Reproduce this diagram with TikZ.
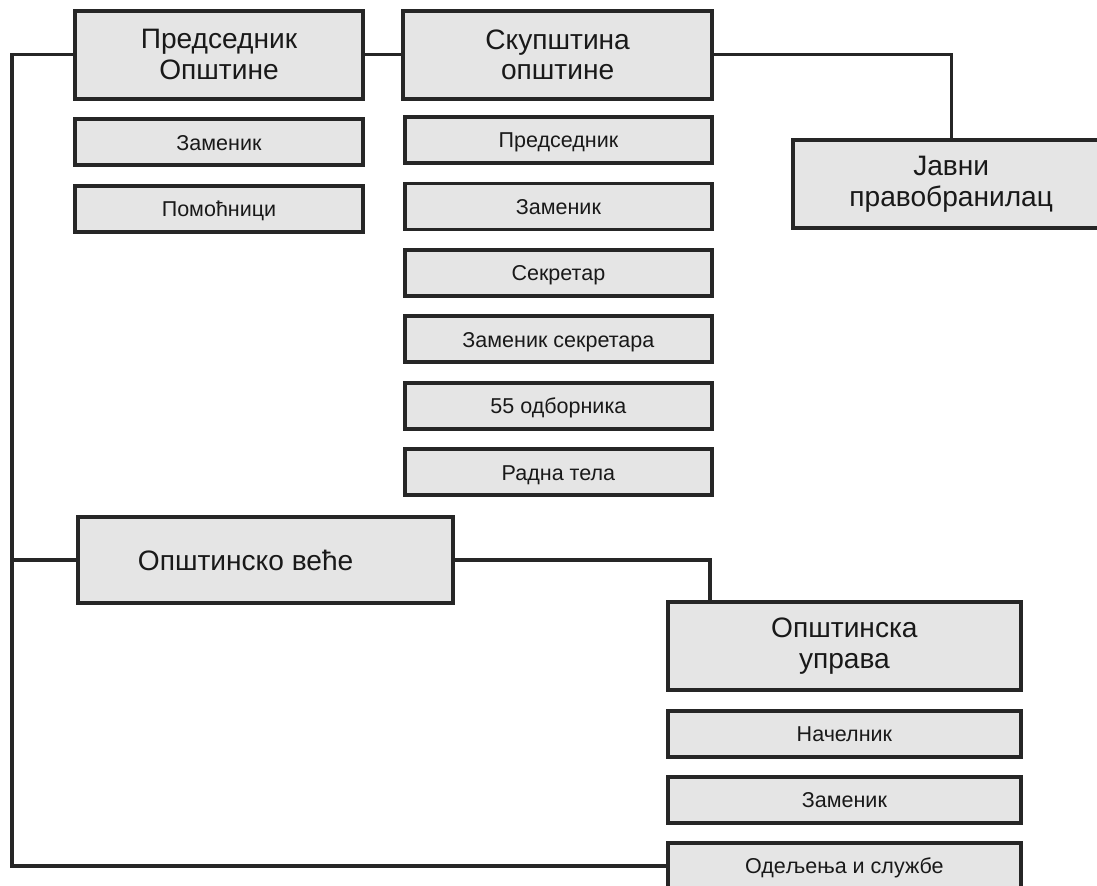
\documentclass[tikz,border=0pt]{standalone}
\usepackage{fontspec}
\setmainfont{Liberation Sans}
\usetikzlibrary{calc}

\tikzset{
  unit/.style={draw=black!85,line width=2.8pt,fill=black!10,inner sep=0pt,align=center,text=black!90},
  bigunit/.style={unit,font=\fontsize{20}{22}\selectfont,minimum height=2.2cm},
  smallunit/.style={unit,font=\fontsize{15.3}{17}\selectfont,minimum height=1.15cm,text height=14pt,text depth=3pt},
  link/.style={draw=black!85,line width=2.4pt},
}

\begin{document}
\begin{tikzpicture}
\clip (0,0) rectangle (27.425,-22.15);%

\node[bigunit,minimum width=7.2cm] (pred) at (5.475,-1.37) {Председник\\Општине};
\node[bigunit,minimum width=7.72cm] (skup) at (13.94,-1.37) {Скупштина\\општине};
\node[smallunit,minimum width=7.2cm] (pzam) at (5.475,-3.56) {Заменик};
\node[smallunit,minimum width=7.2cm] (pom) at (5.475,-5.22) {Помоћници};

\foreach \name/\txt [count=\i from 0] in {spred/Председник,szam/Заменик,ssek/Секретар,szsek/Заменик секретара,odb/55 одборника,rad/Радна тела}
  \node[smallunit,minimum width=7.68cm] (\name) at (13.96,-3.5-1.662*\i) {\txt};

\node[bigunit,minimum width=7.9cm] (javni) at (23.78,-4.6) {Јавни\\правобранилац};

\node[bigunit,minimum width=9.375cm,minimum height=2.15cm] (vece) at (6.64,-14.0) {Општинско веће\hspace*{1cm}};
\node[bigunit,minimum width=8.83cm] (uprava) at (21.11,-16.15) {Општинска\\управа};
\node[smallunit,minimum width=8.83cm] (nac) at (21.11,-18.35) {Начелник};
\node[smallunit,minimum width=8.83cm] (uzam) at (21.11,-19.99) {Заменик};
\node[smallunit,minimum width=8.83cm] (odel) at (21.11,-21.65) {Одељења и службе};

\coordinate (spine) at (0.3,0);
\draw[link] (pred.west) -| (spine |- odel.west) -- (odel.west);
\draw[link] (vece.west) -- (vece.west -| spine);
\draw[link] (pred.east) -- (skup.west);
\draw[link] (skup.east) -| (javni.north);
\draw[link] (vece.east) -| ($(uprava.north west)+(1.1,0)$);

\end{tikzpicture}
\end{document}
